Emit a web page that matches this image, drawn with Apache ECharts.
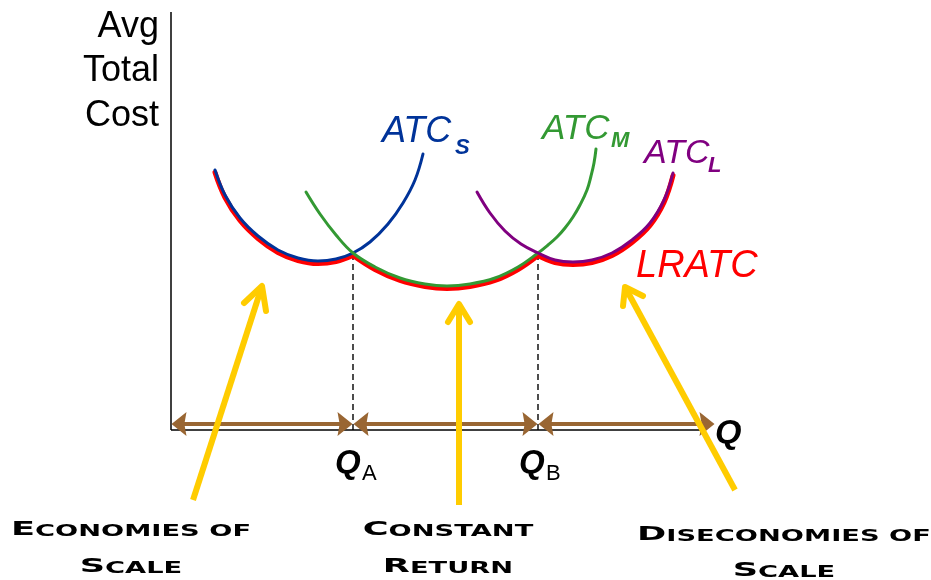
<!DOCTYPE html>
<html>
<head>
<meta charset="utf-8">
<script src="https://cdn.jsdelivr.net/npm/echarts@6/dist/echarts.min.js"></script>
<style>
  html, body { margin: 0; padding: 0; background: #fff; }
  #chart { width: 931px; height: 580px; }
</style>
</head>
<body>
<div id="chart"></div>
<script>
// curve points: [quantity, avg total cost]
const atcS = [[44,260],[54,235],[69,212],[87,194],[107,180],[127,172],[147,169],[165,171],[182,177],[199,188],[217,206],[232,227],[244,250],[252,276]];
const atcM = [[135,238],[149,216],[165,195],[182,177],[204,163],[229,152],[254,146],[276,144],[299,146],[324,152],[347,163],[367,177],[377,185],[386,193],[394,202],[402,213],[409,225],[416,240],[420,254],[423,267],[425,281]];
const atcL = [[306,238],[319,217],[334,199],[350,186],[367,177],[384,170],[402,168],[421,170],[441,177],[461,190],[479,207],[493,230],[502,257]];

// long run envelope, drawn a touch under the short run curves
const lratc1 = [[44,257.5],[54,232.5],[69,209.5],[87,191.5],[107,177.5],[127,169.5],[147,166.5],[165,168.5],[182,174.5]];
const lratc2 = [[182,174.5],[204,160.5],[229,149.5],[254,143.5],[276,141.5],[299,143.5],[324,149.5],[347,160.5],[367,174.5]];
const lratc3 = [[367,174.5],[384,167.5],[402,165.5],[421,167.5],[441,174.5],[461,187.5],[479,204.5],[493,227.5],[502,254.5]];

// axes of the diagram
const qAxis = [[0,0],[529,0]];
const costAxis = [[0,0],[0,418]];

// Q_A, Q_B and the ends of the quantity range
const qBreaks = [0, 182, 367, 544];
const qCost = 177;   // cost where the curves cross

// yellow pointers: tail, tip, and the two wings of the head
const pointers = [
    { shaft: [[22,-70],[91,144]],  head: [[73,127],[91,144],[95,119]] },
    { shaft: [[288,-75],[288,126]], head: [[277,108],[288,126],[299,108]] },
    { shaft: [[564,-60],[454,143]], head: [[452,124],[454,143],[472,134]] }
];

const yTitle = ['Avg', 'Total', 'Cost'];
const captions = [
    { lines: [['E', 'CONOMIES OF'], ['S', 'CALE']], x: 131, y: [530, 567] },
    { lines: [['C', 'ONSTANT'], ['R', 'ETURN']], x: 448, y: [530, 567] },
    { lines: [['D', 'ISECONOMIES OF'], ['S', 'CALE']], x: 784, y: [535, 571] }
];

const BLUE = '#003399', GREEN = '#339933', PURPLE = '#800080', RED = '#ff0000';
const BROWN = '#996633', YELLOW = '#ffcc00';

const chart = echarts.init(document.getElementById('chart'));

// the grid covers the page so the pointers and labels under the axis fit in
const bareAxis = (min, max) => ({
    type: 'value',
    min: min,
    max: max,
    axisLine: { show: false },
    axisTick: { show: false },
    axisLabel: { show: false },
    splitLine: { show: false }
});

const plain = (data, color, width, z, extra) => Object.assign({
    type: 'line',
    data: data,
    symbol: 'none',
    z: z,
    silent: true,
    lineStyle: { color: color, width: width }
}, extra || {});

const curve = (data, color, width, z) => plain(data, color, width, z, {
    smooth: 0.4,
    lineStyle: { color: color, width: width, cap: 'round' }
});

const series = [
    plain(qAxis, '#000', 1.5, 1),
    plain(costAxis, '#000', 1.5, 1),
    curve(lratc1, RED, 5, 2),
    curve(lratc2, RED, 5, 2),
    curve(lratc3, RED, 5, 2),
    curve(atcS, BLUE, 3, 3),
    curve(atcM, GREEN, 3, 3),
    curve(atcL, PURPLE, 3, 3)
];

// dashed drops at Q_A and Q_B
[qBreaks[1], qBreaks[2]].forEach(q => {
    series.push(plain([[q, 0], [q, qCost]], '#000', 1.4, 1, {
        lineStyle: { color: '#000', width: 1.4, type: [6, 4] }
    }));
});

// brown double arrows between the breaks; head centred on the end point
const HEAD = 'path://M10,0 L20,14 L10,12 L0,14 Z';
const spans = [];
for (let i = 0; i < qBreaks.length - 1; i++) {
    spans.push([{ coord: [qBreaks[i] + 8, 6] }, { coord: [qBreaks[i + 1] - 8, 6] }]);
}
series.push({
    type: 'line',
    data: [],
    z: 4,
    markLine: {
        silent: true,
        animation: false,
        symbol: [HEAD, HEAD],
        symbolSize: [24, 15],
        label: { show: false },
        lineStyle: { color: BROWN, width: 4, type: 'solid' },
        emphasis: { disabled: true },
        data: spans
    }
});

pointers.forEach(p => {
    series.push(plain(p.shaft, YELLOW, 6, 5, { lineStyle: { color: YELLOW, width: 6, cap: 'butt' } }));
    series.push(plain(p.head, YELLOW, 6, 5, { lineStyle: { color: YELLOW, width: 6, cap: 'round', join: 'round' } }));
});

// texts
const graphic = [];
const SANS = '"Liberation Sans", Arial, sans-serif';
yTitle.forEach((t, i) => {
    graphic.push({
        type: 'text', x: 159, y: [27, 71, 116][i],
        style: { text: t, fontSize: 36, fontFamily: SANS, fill: '#000', align: 'right', verticalAlign: 'middle' }
    });
});

const curveLabel = (main, sub, color, x, y, mainSize, subX, subY, subSize) => {
    graphic.push({
        type: 'text', x: x, y: y,
        style: { text: main, fontSize: mainSize, fontStyle: 'italic', fontFamily: SANS, fill: color, align: 'left', verticalAlign: 'middle' }
    });
    if (sub) {
        graphic.push({
            type: 'text', x: subX, y: subY,
            style: { text: sub, fontSize: subSize, fontStyle: 'italic', fontWeight: 'bold', fontFamily: SANS, fill: color, align: 'left', verticalAlign: 'middle' }
        });
    }
};
curveLabel('ATC', 'S', BLUE, 382, 132, 36, 455, 148, 22);
curveLabel('ATC', 'M', GREEN, 542, 129, 35, 611, 141, 22);
curveLabel('ATC', 'L', PURPLE, 644, 154, 34, 708, 166, 22);
curveLabel('LRATC', null, RED, 636, 266, 38);

// axis letter and the two break labels
graphic.push({
    type: 'text', x: 715, y: 434,
    style: { text: 'Q', fontSize: 34, fontStyle: 'italic', fontWeight: 'bold', fontFamily: SANS, fill: '#000', verticalAlign: 'middle' }
});
[['A', 335], ['B', 519]].forEach(([s, x]) => {
    graphic.push({
        type: 'text', x: x, y: 464,
        style: { text: 'Q', fontSize: 33, fontStyle: 'italic', fontWeight: 'bold', fontFamily: SANS, fill: '#000', verticalAlign: 'middle' }
    });
    graphic.push({
        type: 'text', x: x + 27, y: 474,
        style: { text: s, fontSize: 22, fontFamily: SANS, fill: '#000', verticalAlign: 'middle' }
    });
});

// small caps captions, stretched to look like the extended face
const CAPS = '"DejaVu Sans", sans-serif';
captions.forEach(c => {
    c.lines.forEach((ln, i) => {
        graphic.push({
            type: 'text', x: c.x, y: c.y[i], scaleX: 1.76,
            style: {
                text: '{b|' + ln[0] + '}{s|' + ln[1] + '}',
                align: 'center', verticalAlign: 'middle',
                rich: {
                    b: { fontSize: 20, lineHeight: 20, fontWeight: 'bold', fontFamily: CAPS, fill: '#000', verticalAlign: 'bottom' },
                    s: { fontSize: 15.5, lineHeight: 15.5, fontWeight: 'bold', fontFamily: CAPS, fill: '#000', verticalAlign: 'bottom' }
                }
            }
        });
    });
});

chart.setOption({
    animation: false,
    backgroundColor: '#fff',
    grid: { left: 171, right: 0, top: 12, bottom: 0, containLabel: false },
    xAxis: bareAxis(0, 760),
    yAxis: bareAxis(-150, 418),
    series: series,
    graphic: graphic
});
</script>
</body>
</html>
